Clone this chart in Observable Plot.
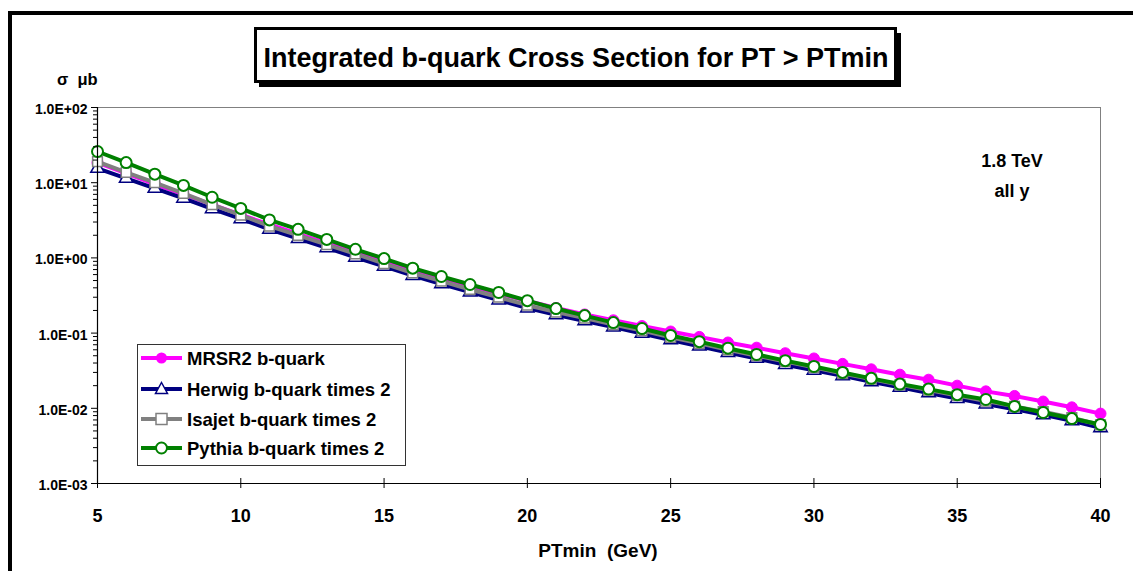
<!DOCTYPE html>
<html>
<head>
<meta charset="utf-8">
<script src="https://cdn.jsdelivr.net/npm/d3@7"></script>
<script src="https://cdn.jsdelivr.net/npm/@observablehq/plot@0.6"></script>
<style>
  body { margin: 0; background: #fff; }
  #wrap { position: relative; width: 1133px; height: 571px; overflow: hidden; background: #fff; }
  #wrap > svg { position: absolute; left: 0; top: 0; }
  .ov text { font-family: "Liberation Sans", Arial, sans-serif; font-weight: bold; fill: #000; }
</style>
</head>
<body>
<div id="wrap"></div>
<script>
// ---- data ----
const ptmin = [5,6,7,8,9,10,11,12,13,14,15,16,17,18,19,20,21,22,23,24,25,26,27,28,29,30,31,32,33,34,35,36,37,38,39,40];
const mrsr2 = [18.5,13.3,9.6,7.0,5.1,3.75,2.78,2.08,1.57,1.19,0.91,0.70,0.54,0.42,0.335,0.268,0.216,0.177,0.148,0.124,0.105,0.089,0.075,0.064,0.054,0.046,0.039,0.033,0.028,0.024,0.020,0.0168,0.0146,0.0123,0.0103,0.0085];
const herwig = [15.5,11.4,8.4,6.2,4.5,3.3,2.4,1.8,1.36,1.02,0.77,0.58,0.45,0.35,0.275,0.215,0.175,0.145,0.12,0.099,0.081,0.067,0.055,0.046,0.038,0.032,0.027,0.0225,0.019,0.016,0.0135,0.0114,0.0097,0.0082,0.0068,0.0055];
const isajet = [19,13.7,10,7.2,5.1,3.7,2.65,2.0,1.5,1.13,0.84,0.63,0.49,0.38,0.30,0.235,0.19,0.158,0.13,0.108,0.088,0.073,0.06,0.05,0.042,0.035,0.029,0.0245,0.0205,0.0175,0.0148,0.0125,0.0106,0.009,0.0075,0.006];
const pythia = [26,18.5,13,9.2,6.4,4.55,3.2,2.4,1.76,1.3,0.98,0.73,0.566,0.443,0.347,0.27,0.212,0.171,0.138,0.115,0.093,0.077,0.063,0.052,0.043,0.036,0.030,0.025,0.021,0.018,0.0152,0.0131,0.0106,0.0088,0.0073,0.0061];

const seriesNames = ["MRSR2 b-quark", "Herwig b-quark times 2", "Isajet b-quark times 2", "Pythia b-quark times 2"];
const seriesColors = ["#ff00ff", "#000080", "#808080", "#008000"];

const xTickValues = [5,10,15,20,25,30,35,40];
const xTickLabels = ["5","10","15","20","25","30","35","40"];
const yTickValues = [1e-3,1e-2,1e-1,1,10,100];
const yTickLabels = ["1.0E-03","1.0E-02","1.0E-01","1.0E+00","1.0E+01","1.0E+02"];

const chartTitle = "Integrated b-quark Cross Section for PT > PTmin";
const yAxisTitle = "σ  μb";
const xAxisTitle = "PTmin  (GeV)";
const note1 = "1.8 TeV";
const note2 = "all y";

// ---- build tables ----
const seriesValues = [mrsr2, herwig, isajet, pythia];
const tables = seriesValues.map((vals, k) => ptmin.map((x, i) => ({x, y: vals[i], s: seriesNames[k]})));
const yTicks = yTickValues.map((v, i) => ({v, label: yTickLabels[i]}));
const xTicks = xTickValues.map((v, i) => ({v, label: xTickLabels[i]}));

const minorTicks = [];
for (let e = -3; e < 2; e++) for (let m = 2; m <= 9; m++) minorTicks.push(m * Math.pow(10, e));

const lineOpts = (k) => ({x: "x", y: "y", stroke: seriesColors[k], strokeWidth: 4, curve: "linear"});

const chart = Plot.plot({
  width: 1133,
  height: 571,
  marginLeft: 97,
  marginRight: 33,
  marginTop: 107,
  marginBottom: 88,
  style: {fontFamily: "'Liberation Sans', Arial, sans-serif", fontWeight: "bold", background: "transparent", color: "#000"},
  x: {domain: [5, 40]},
  y: {type: "log", domain: [1e-3, 1e2]},
  marks: [
    Plot.frame({stroke: "#808080", strokeWidth: 1}),
    // series
    Plot.line(tables[0], lineOpts(0)),
    Plot.dot(tables[0], {x: "x", y: "y", r: 5.5, fill: seriesColors[0], stroke: seriesColors[0], strokeWidth: 1}),
    Plot.line(tables[1], lineOpts(1)),
    Plot.dot(tables[1], {x: "x", y: "y", symbol: "triangle", r: 5, fill: "#fff", stroke: seriesColors[1], strokeWidth: 1.5}),
    Plot.line(tables[2], lineOpts(2)),
    Plot.dot(tables[2], {x: "x", y: "y", symbol: "square", r: 5.5, fill: "#fff", stroke: seriesColors[2], strokeWidth: 1.5}),
    Plot.line(tables[3], lineOpts(3)),
    Plot.dot(tables[3], {x: "x", y: "y", r: 5.5, fill: "#fff", stroke: seriesColors[3], strokeWidth: 2}),
    // axes lines and ticks
    Plot.ruleX([5], {stroke: "#000", strokeWidth: 1.2}),
    Plot.ruleY([1e-3], {stroke: "#000", strokeWidth: 1.2}),
    Plot.axisY(yTickValues, {tickSize: 6, tickFormat: () => "", label: null}),
    Plot.axisY(minorTicks, {tickSize: 4, tickFormat: () => "", label: null}),
    Plot.axisX(xTickValues, {tickSize: 5, tickFormat: () => "", label: null}),
    Plot.axisX(xTickValues, {tickSize: -5, tickFormat: () => "", label: null}),
    // tick labels
    Plot.text(yTicks, {y: "v", text: "label", frameAnchor: "left", textAnchor: "end", dx: -10, dy: 2, fontSize: 14, fontWeight: "bold", fill: "#000"}),
    Plot.text(xTicks, {x: "v", text: "label", frameAnchor: "bottom", lineAnchor: "middle", dy: 33, fontSize: 18, fontWeight: "bold", fill: "#000"})
  ]
});

const wrap = document.getElementById("wrap");
wrap.appendChild(chart);

// ---- overlay: frame, title box, texts, legend ----
const NS = "http://www.w3.org/2000/svg";
const ov = document.createElementNS(NS, "svg");
ov.setAttribute("width", 1133);
ov.setAttribute("height", 571);
ov.setAttribute("class", "ov");
wrap.appendChild(ov);
function el(tag, attrs, parent = ov) {
  const e = document.createElementNS(NS, tag);
  for (const k in attrs) e.setAttribute(k, attrs[k]);
  parent.appendChild(e);
  return e;
}
function txt(s, attrs) { const t = el("text", attrs); t.style.whiteSpace = "pre"; t.textContent = s; return t; }

// outer frame
el("line", {x1: 8, y1: 13, x2: 1133, y2: 13, stroke: "#000", "stroke-width": 4});
el("line", {x1: 10, y1: 11, x2: 10, y2: 571, stroke: "#000", "stroke-width": 4});

// title box with shadow
el("rect", {x: 259, y: 33, width: 642, height: 54, fill: "#000"});
el("rect", {x: 255.5, y: 28.5, width: 640, height: 53, fill: "#fff", stroke: "#000", "stroke-width": 3});
txt(chartTitle, {x: 576, y: 67, "text-anchor": "middle", "font-size": 27});

// axis titles & notes
txt(yAxisTitle, {x: 57, y: 85, "font-size": 16.5});
txt(note1, {x: 1012, y: 167, "text-anchor": "middle", "font-size": 18});
txt(note2, {x: 1012, y: 197, "text-anchor": "middle", "font-size": 18});
txt(xAxisTitle, {x: 598, y: 557, "text-anchor": "middle", "font-size": 19});

// legend
el("rect", {x: 137.5, y: 344.5, width: 268, height: 121, fill: "#fff", stroke: "#333", "stroke-width": 1});
const rowY = [358, 389, 419, 448];
seriesNames.forEach((name, k) => {
  const y = rowY[k];
  el("line", {x1: 141, y1: y, x2: 182, y2: y, stroke: seriesColors[k], "stroke-width": 4});
  const cx = 161.5;
  if (k === 0) el("circle", {cx, cy: y, r: 5.5, fill: seriesColors[0]});
  if (k === 1) el("path", {d: `M${cx},${y-6.5}L${cx+6},${y+4.5}L${cx-6},${y+4.5}Z`, fill: "#fff", stroke: seriesColors[1], "stroke-width": 1.5});
  if (k === 2) el("rect", {x: cx-5.5, y: y-5.5, width: 11, height: 11, fill: "#fff", stroke: seriesColors[2], "stroke-width": 1.5});
  if (k === 3) el("circle", {cx, cy: y, r: 5.5, fill: "#fff", stroke: seriesColors[3], "stroke-width": 2});
  txt(name, {x: 187, y: y + 6.5, "font-size": 18.5});
});
</script>
</body>
</html>
